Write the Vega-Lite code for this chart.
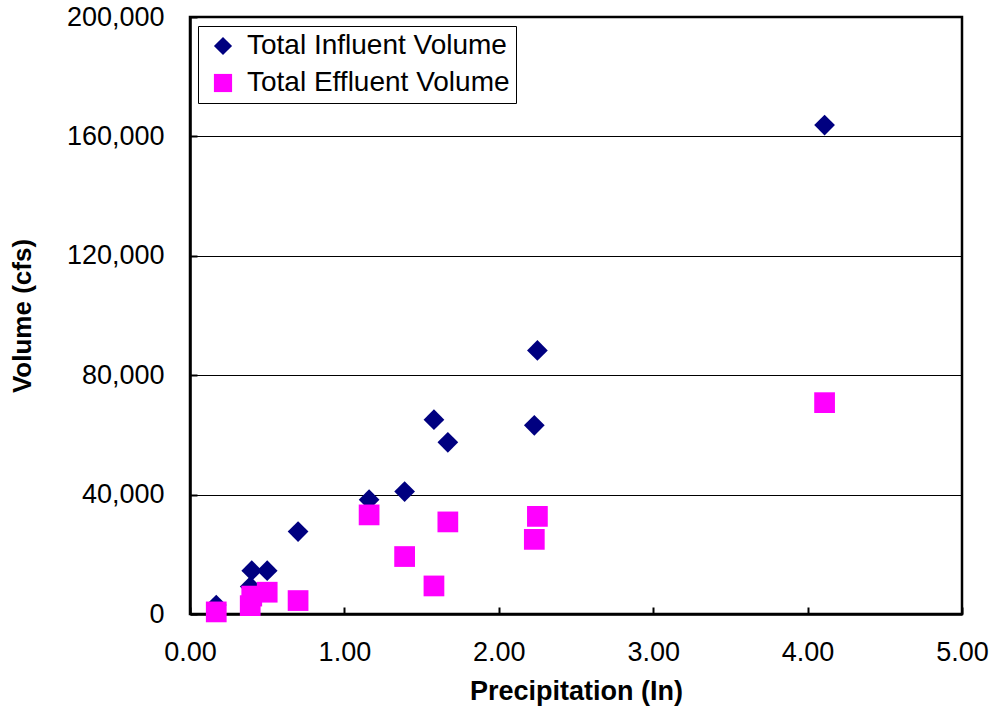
{
  "$schema": "https://vega.github.io/schema/vega-lite/v6.json",
  "autosize": "none",
  "width": 772,
  "height": 597,
  "padding": {"left": 190, "top": 17, "right": 33, "bottom": 101},
  "background": "white",
  "config": {
    "font": "Liberation Sans",
    "view": {"stroke": "black", "strokeWidth": 2.5}
  },
  "data": {
    "values": [
      {"series": "Total Influent Volume", "precip": 0.17, "volume": 3000},
      {"series": "Total Influent Volume", "precip": 0.39, "volume": 9200},
      {"series": "Total Influent Volume", "precip": 0.40, "volume": 14500},
      {"series": "Total Influent Volume", "precip": 0.50, "volume": 14500},
      {"series": "Total Influent Volume", "precip": 0.70, "volume": 27600},
      {"series": "Total Influent Volume", "precip": 1.16, "volume": 38300},
      {"series": "Total Influent Volume", "precip": 1.39, "volume": 41000},
      {"series": "Total Influent Volume", "precip": 1.58, "volume": 65100},
      {"series": "Total Influent Volume", "precip": 1.67, "volume": 57500},
      {"series": "Total Influent Volume", "precip": 2.23, "volume": 63200},
      {"series": "Total Influent Volume", "precip": 2.25, "volume": 88300},
      {"series": "Total Influent Volume", "precip": 4.11, "volume": 163800},
      {"series": "Total Effluent Volume", "precip": 0.17, "volume": 700},
      {"series": "Total Effluent Volume", "precip": 0.39, "volume": 2800},
      {"series": "Total Effluent Volume", "precip": 0.40, "volume": 6000},
      {"series": "Total Effluent Volume", "precip": 0.50, "volume": 7300},
      {"series": "Total Effluent Volume", "precip": 0.70, "volume": 4500},
      {"series": "Total Effluent Volume", "precip": 1.16, "volume": 33200},
      {"series": "Total Effluent Volume", "precip": 1.39, "volume": 19250},
      {"series": "Total Effluent Volume", "precip": 1.58, "volume": 9400},
      {"series": "Total Effluent Volume", "precip": 1.67, "volume": 30850},
      {"series": "Total Effluent Volume", "precip": 2.23, "volume": 25000},
      {"series": "Total Effluent Volume", "precip": 2.25, "volume": 32700},
      {"series": "Total Effluent Volume", "precip": 4.11, "volume": 70800}
    ]
  },
  "mark": {"type": "point", "filled": true, "opacity": 1, "strokeWidth": 0, "size": 430},
  "encoding": {
    "x": {
      "field": "precip",
      "type": "quantitative",
      "scale": {"domain": [0, 5], "nice": false, "zero": true},
      "axis": {
        "title": "Precipitation (In)",
        "values": [0, 1, 2, 3, 4, 5],
        "format": ".2f",
        "grid": false,
        "domainColor": "black",
        "domainWidth": 2.5,
        "tickColor": "black",
        "tickWidth": 2,
        "tickSize": -7,
        "labelPadding": 32,
        "labelFontSize": 27,
        "labelColor": "black",
        "labelFlush": false,
        "titleFontSize": 27,
        "titleFontWeight": "bold",
        "titleColor": "black",
        "titlePadding": 13
      }
    },
    "y": {
      "field": "volume",
      "type": "quantitative",
      "scale": {"domain": [0, 200000], "nice": false},
      "axis": {
        "title": "Volume (cfs)",
        "values": [0, 40000, 80000, 120000, 160000, 200000],
        "format": ",.0f",
        "grid": true,
        "gridColor": "black",
        "gridWidth": 1,
        "gridOpacity": 1,
        "domainColor": "black",
        "domainWidth": 2.5,
        "tickColor": "black",
        "tickWidth": 2,
        "tickSize": -7,
        "labelPadding": 33,
        "labelFontSize": 27,
        "labelColor": "black",
        "labelFlush": false,
        "titleFontSize": 26,
        "titleFontWeight": "bold",
        "titleColor": "black",
        "titlePadding": 31
      }
    },
    "shape": {
      "field": "series",
      "type": "nominal",
      "scale": {
        "domain": ["Total Influent Volume", "Total Effluent Volume"],
        "range": ["diamond", "square"]
      }
    },
    "color": {
      "field": "series",
      "type": "nominal",
      "scale": {
        "domain": ["Total Influent Volume", "Total Effluent Volume"],
        "range": ["#000080", "#FF00FF"]
      },
      "legend": {
        "title": null,
        "orient": "none",
        "legendX": 8,
        "legendY": 9,
        "direction": "vertical",
        "fillColor": "white",
        "strokeColor": "black",
        "padding": 6,
        "symbolOffset": 5,
        "labelFontSize": 28,
        "labelColor": "black",
        "labelOffset": 10,
        "labelLimit": 400,
        "symbolSize": 330,
        "symbolStrokeWidth": 0,
        "symbolOpacity": 1,
        "rowPadding": 9
      }
    }
  }
}
